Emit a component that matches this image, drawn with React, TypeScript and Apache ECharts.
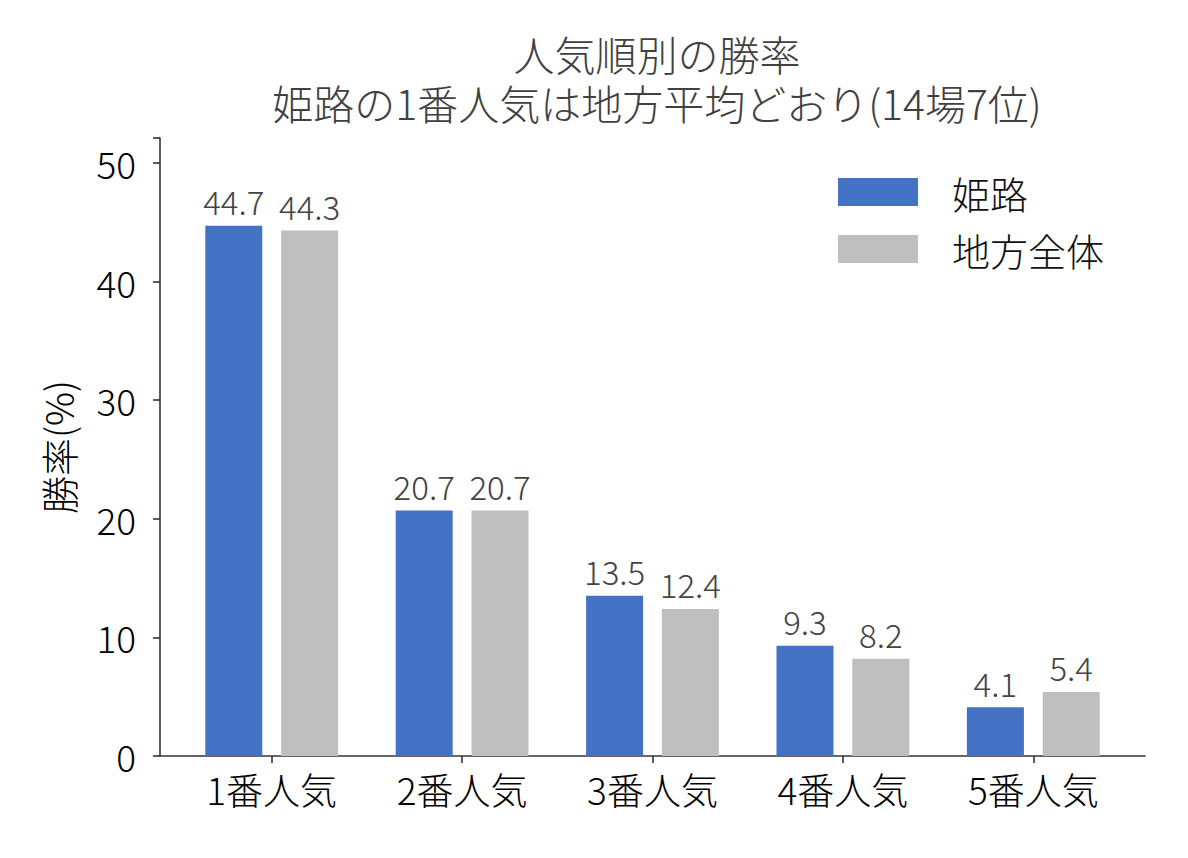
import React, { useEffect, useRef } from "react";
import * as echarts from "echarts";

const categories = ["1番人気", "2番人気", "3番人気", "4番人気", "5番人気"];
const himejiValues = [44.7, 20.7, 13.5, 9.3, 4.1];
const chihouValues = [44.3, 20.7, 12.4, 8.2, 5.4];
const seriesNames = ["姫路", "地方全体"];
const yTicks = [0, 10, 20, 30, 40, 50];
const titleLines = ["人気順別の勝率", "姫路の1番人気は地方平均どおり(14場7位)"];
const yAxisName = "勝率(%)";

const FONT = "'Noto Sans CJK JP', 'Noto Sans', sans-serif";
const WEIGHT = 300;
const AXIS_COLOR = "#333333";
const Y_MAX = 52.1;

export default function App() {
  const ref = useRef<HTMLDivElement>(null);
  useEffect(() => {
    if (!ref.current) return;
    const chart = echarts.init(ref.current, undefined, { renderer: "svg" });
    const outer = { left: 160, right: 43, top: 138, bottom: 102 };
    const pad = 16.5;
    const titleStyle = {
      fontFamily: FONT,
      fontSize: 41,
      fontWeight: WEIGHT,
      color: "#404040",
      lineHeight: 41,
    };
    chart.setOption({
      animation: false,
      backgroundColor: "#ffffff",
      textStyle: { fontFamily: FONT, fontWeight: WEIGHT },
      title: [
        { text: titleLines[0], left: 652, textAlign: "center", top: 27, textStyle: titleStyle },
        { text: titleLines[1], left: 652, textAlign: "center", top: 76, textStyle: titleStyle },
      ],
      legend: {
        data: seriesNames,
        orient: "vertical",
        left: 833,
        top: 168,
        itemWidth: 80,
        itemHeight: 28,
        itemGap: 19,
        icon: "rect",
        textStyle: {
          fontFamily: FONT,
          fontSize: 38,
          fontWeight: WEIGHT,
          color: "#111111",
          padding: [0, 0, 0, 29],
        },
      },
      grid: [
        { ...outer, containLabel: false },
        {
          left: outer.left + pad,
          right: outer.right + pad,
          top: outer.top,
          bottom: outer.bottom,
          containLabel: false,
        },
      ],
      xAxis: [
        {
          type: "value",
          gridIndex: 0,
          min: 0,
          max: 1,
          axisLine: { show: true, onZero: false, lineStyle: { color: AXIS_COLOR, width: 1.6 } },
          axisTick: { show: false },
          axisLabel: { show: false },
          splitLine: { show: false },
        },
        {
          type: "category",
          gridIndex: 1,
          data: categories,
          axisLine: { show: false },
          axisTick: {
            show: true,
            alignWithLabel: true,
            length: 7,
            lineStyle: { color: AXIS_COLOR, width: 1.6 },
          },
          axisLabel: {
            fontFamily: FONT,
            fontSize: 37,
            fontWeight: WEIGHT,
            color: "#000000",
            margin: 14,
          },
        },
      ],
      yAxis: [
        {
          type: "value",
          gridIndex: 0,
          min: 0,
          max: Y_MAX,
          interval: 10,
          axisLine: { show: true, lineStyle: { color: AXIS_COLOR, width: 1.6 } },
          axisTick: { show: true, length: 7, lineStyle: { color: AXIS_COLOR, width: 1.6 } },
          axisLabel: {
            fontFamily: FONT,
            fontSize: 37,
            fontWeight: WEIGHT,
            color: "#000000",
            margin: 24,
            formatter: (v: number) => (yTicks.includes(v) ? String(v) : ""),
          },
          splitLine: { show: false },
          name: yAxisName,
          nameLocation: "middle",
          nameGap: 84,
          nameTextStyle: { fontFamily: FONT, fontSize: 38, fontWeight: WEIGHT, color: "#000000" },
        },
        {
          type: "value",
          gridIndex: 1,
          min: 0,
          max: Y_MAX,
          show: false,
          splitLine: { show: false },
        },
      ],
      series: [
        {
          name: seriesNames[0],
          type: "bar",
          xAxisIndex: 1,
          yAxisIndex: 1,
          data: himejiValues,
          barWidth: 57,
          barGap: "33%",
          itemStyle: { color: "#4472C4" },
          label: {
            show: true,
            position: "top",
            distance: 8,
            fontFamily: FONT,
            fontSize: 33,
            fontWeight: WEIGHT,
            color: "#444444",
            formatter: (p: any) => Number(p.value).toFixed(1),
          },
        },
        {
          name: seriesNames[1],
          type: "bar",
          xAxisIndex: 1,
          yAxisIndex: 1,
          data: chihouValues,
          barWidth: 57,
          barGap: "33%",
          itemStyle: { color: "#BFBFBF" },
          label: {
            show: true,
            position: "top",
            distance: 8,
            fontFamily: FONT,
            fontSize: 33,
            fontWeight: WEIGHT,
            color: "#444444",
            formatter: (p: any) => Number(p.value).toFixed(1),
          },
        },
      ],
    });
    return () => chart.dispose();
  }, []);
  return (
    <div
      ref={ref}
      style={{ position: "absolute", left: 0, top: 0, width: 1188, height: 858 }}
    />
  );
}
